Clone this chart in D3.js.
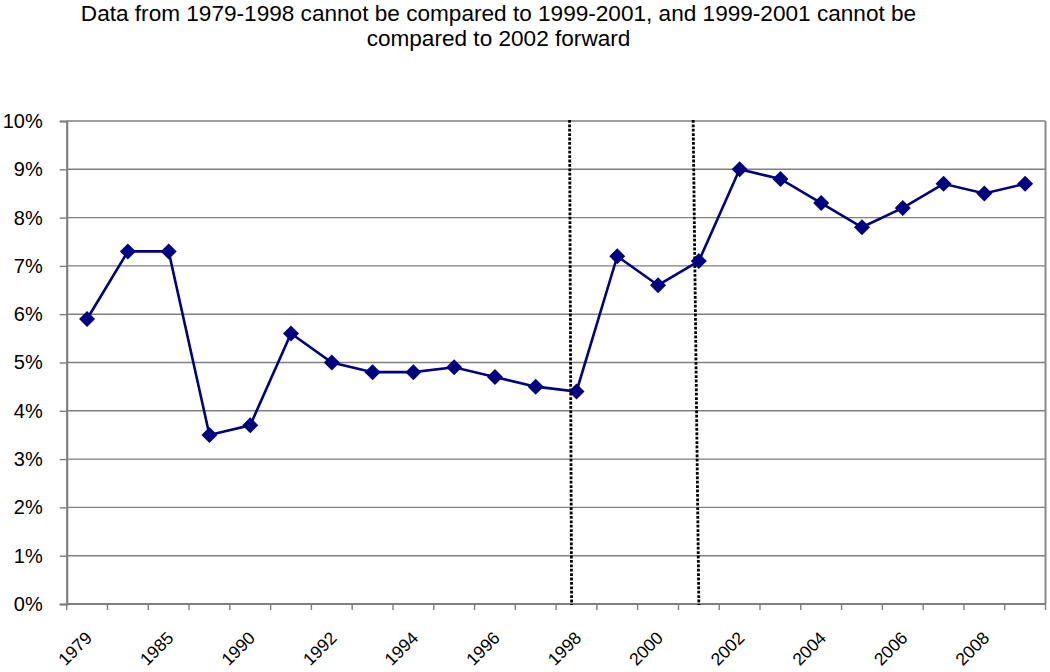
<!DOCTYPE html>
<html>
<head>
<meta charset="utf-8">
<script src="https://cdn.jsdelivr.net/npm/d3@7"></script>
<style>
  html, body { margin: 0; padding: 0; background: #fff; }
  svg { display: block; }
  text { font-family: "Liberation Sans", Arial, sans-serif; fill: #000; }
</style>
</head>
<body>
<script>
// ---- data ----
const categories = ["1979","1982","1985","1988","1990","1991","1992","1993","1994","1995","1996","1997",
                    "1998","1999","2000","2001","2002","2003","2004","2005","2006","2007","2008","2009"];
const shownLabels = ["1979","1985","1990","1992","1994","1996","1998","2000","2002","2004","2006","2008"];
const values = [5.9, 7.3, 7.3, 3.5, 3.7, 5.6, 5.0, 4.8, 4.8, 4.9, 4.7, 4.5,
                4.4, 7.2, 6.6, 7.1, 9.0, 8.8, 8.3, 7.8, 8.2, 8.7, 8.5, 8.7];
const yTicks = [0,1,2,3,4,5,6,7,8,9,10];
// divider lines, as fractional band positions (top, bottom)
const dividerTop = [12.33, 15.36];
const dividerBottom = [12.38, 15.5];
const titleLines = ["Data from 1979-1998 cannot be compared to 1999-2001, and 1999-2001 cannot be",
                    "compared to 2002 forward"];

// ---- layout ----
const W = 1050, H = 672;
const pLeft = 66.7, pRight = 1045.5, pTop = 121, pBottom = 604;

const svg = d3.select("body").append("svg").attr("width", W).attr("height", H);

const x = d3.scaleBand().domain(categories).range([pLeft, pRight]).paddingInner(0).paddingOuter(0);
const y = d3.scaleLinear().domain([0, 10]).range([pBottom, pTop]);
const bw = x.bandwidth();
const xPos = f => pLeft + f * bw;

// title
svg.append("g").selectAll("text").data(titleLines).join("text")
  .attr("x", 498.5).attr("y", (d, i) => 20.5 + i * 25)
  .attr("text-anchor", "middle")
  .style("font-size", "22.6px")
  .text(d => d);

// gridlines
svg.append("g").selectAll("line").data(yTicks.filter(d => d > 0)).join("line")
  .attr("x1", pLeft).attr("x2", pRight)
  .attr("y1", d => y(d)).attr("y2", d => y(d))
  .attr("stroke", "#7f7f7f").attr("stroke-width", 1.4);

// right border
svg.append("line").attr("x1", pRight).attr("x2", pRight).attr("y1", pTop).attr("y2", pBottom)
  .attr("stroke", "#8a8a8a").attr("stroke-width", 2);

// y axis
const yAxis = d3.axisLeft(y).tickValues(yTicks).tickFormat(d => d + "%").tickSize(7).tickPadding(17);
const gy = svg.append("g").attr("transform", `translate(${pLeft},0)`).call(yAxis);
gy.select(".domain").attr("stroke", "#7f7f7f").attr("stroke-width", 2.2);
gy.selectAll(".tick line").attr("stroke", "#7f7f7f").attr("stroke-width", 1.4);
gy.selectAll(".tick text").style("font-size", "20px").attr("fill", "#000")
  .style("font-family", "'Liberation Sans', Arial, sans-serif");

// x axis (ticks at band boundaries)
const boundaries = d3.range(categories.length + 1);
const gx = svg.append("g");
gx.append("line").attr("x1", pLeft).attr("x2", pRight).attr("y1", pBottom).attr("y2", pBottom)
  .attr("stroke", "#7f7f7f").attr("stroke-width", 2.2);
gx.selectAll("line.tk").data(boundaries).join("line").attr("class", "tk")
  .attr("x1", d => xPos(d)).attr("x2", d => xPos(d))
  .attr("y1", pBottom).attr("y2", pBottom + 6)
  .attr("stroke", "#7f7f7f").attr("stroke-width", 1.4);
gx.selectAll("text").data(shownLabels).join("text")
  .attr("transform", d => `translate(${x(d) + bw / 2 + 6},${pBottom + 35}) rotate(-45)`)
  .attr("text-anchor", "end")
  .style("font-size", "17.5px")
  .text(d => d);

// divider dotted lines
svg.append("g").selectAll("line").data(dividerTop).join("line")
  .attr("x1", d => xPos(d)).attr("x2", (d, i) => xPos(dividerBottom[i]))
  .attr("y1", pTop - 1).attr("y2", pBottom + 1)
  .attr("stroke", "#000").attr("stroke-width", 2.8)
  .attr("stroke-dasharray", "2.8,1.6");

// data line
const line = d3.line().x((d, i) => x(categories[i]) + bw / 2).y(d => y(d));
svg.append("path").datum(values).attr("d", line)
  .attr("fill", "none").attr("stroke", "#000080").attr("stroke-width", 2.6);

// markers
const r = 8;
svg.append("g").selectAll("path").data(values).join("path")
  .attr("transform", (d, i) => `translate(${x(categories[i]) + bw / 2},${y(d)})`)
  .attr("d", `M0,${-r}L${r},0L0,${r}L${-r},0Z`)
  .attr("fill", "#000080");
</script>
</body>
</html>
